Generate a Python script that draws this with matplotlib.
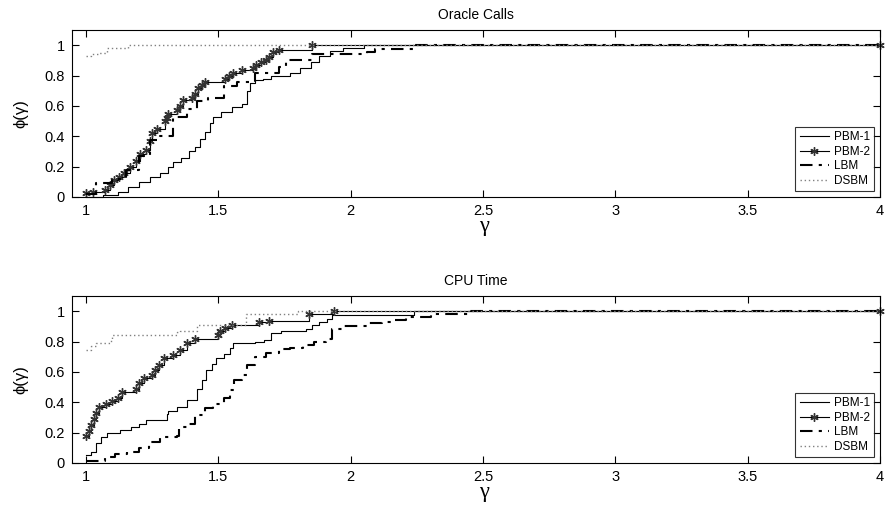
import numpy as np
import matplotlib
matplotlib.use("Agg")
import matplotlib.pyplot as plt

plt.rcParams["font.family"] = ["Liberation Sans", "DejaVu Sans"]

# -----------------------------------------------------------------------
# Performance profiles (step breakpoints: gamma, phi)
# -----------------------------------------------------------------------
solvers = ["PBM-1", "PBM-2", "LBM", "DSBM"]

# Oracle calls
oc_pbm1_x = [1.0, 1.066, 1.12, 1.16, 1.20, 1.24, 1.28, 1.31, 1.33, 1.36, 1.39, 1.41,
             1.43, 1.45, 1.47, 1.48, 1.51, 1.55, 1.59, 1.61, 1.62, 1.64, 1.67, 1.70,
             1.77, 1.81, 1.85, 1.88, 1.92, 1.97, 2.05, 4.0]
oc_pbm1_y = [0.0, 0.013, 0.033, 0.066, 0.10, 0.13, 0.16, 0.20, 0.23, 0.26, 0.30, 0.33,
             0.38, 0.43, 0.49, 0.53, 0.56, 0.59, 0.61, 0.70, 0.75, 0.77, 0.78, 0.80,
             0.82, 0.85, 0.89, 0.93, 0.96, 0.98, 1.0, 1.0]
oc_pbm2_x = [1.0, 1.025, 1.07, 1.09, 1.106, 1.125, 1.143, 1.165, 1.187, 1.205, 1.225,
             1.24, 1.25, 1.268, 1.30, 1.306, 1.31, 1.343, 1.355, 1.368, 1.40, 1.41,
             1.424, 1.44, 1.45, 1.524, 1.54, 1.555, 1.59, 1.63, 1.643, 1.66, 1.68,
             1.69, 1.705, 1.73, 1.855, 4.0]
oc_pbm2_y = [0.024, 0.03, 0.046, 0.08, 0.11, 0.13, 0.156, 0.20, 0.24, 0.28, 0.31,
             0.37, 0.42, 0.445, 0.50, 0.52, 0.55, 0.57, 0.60, 0.64, 0.65, 0.68,
             0.715, 0.74, 0.76, 0.78, 0.80, 0.82, 0.835, 0.847, 0.87, 0.89, 0.90,
             0.92, 0.955, 0.97, 1.0, 1.0]
oc_lbm_x = [1.0, 1.037, 1.10, 1.15, 1.20, 1.243, 1.28, 1.33, 1.38, 1.418, 1.46, 1.52,
            1.57, 1.64, 1.73, 1.755, 1.855, 2.06, 2.09, 2.24, 4.0]
oc_lbm_y = [0.02, 0.094, 0.12, 0.18, 0.27, 0.375, 0.40, 0.53, 0.58, 0.63, 0.65, 0.73,
            0.76, 0.82, 0.857, 0.90, 0.945, 0.956, 0.978, 1.0, 1.0]
oc_dsbm_x = [1.0, 1.02, 1.05, 1.08, 1.16, 4.0]
oc_dsbm_y = [0.93, 0.94, 0.95, 0.98, 1.0, 1.0]

# CPU time
cpu_pbm1_x = [1.0, 1.02, 1.037, 1.056, 1.08, 1.13, 1.17, 1.20, 1.225, 1.306, 1.31,
              1.343, 1.38, 1.418, 1.437, 1.455, 1.475, 1.49, 1.52, 1.543, 1.555, 1.637,
              1.674, 1.70, 1.737, 1.83, 1.855, 1.88, 1.91, 1.93, 2.24, 4.0]
cpu_pbm1_y = [0.05, 0.07, 0.13, 0.17, 0.195, 0.217, 0.24, 0.26, 0.28, 0.32, 0.34,
              0.37, 0.415, 0.49, 0.546, 0.61, 0.65, 0.69, 0.72, 0.76, 0.79, 0.80,
              0.81, 0.857, 0.867, 0.88, 0.91, 0.93, 0.95, 0.975, 1.0, 1.0]
cpu_pbm2_x = [1.0, 1.01, 1.02, 1.03, 1.037, 1.05, 1.075, 1.10, 1.12, 1.137, 1.187,
              1.20, 1.218, 1.25, 1.262, 1.275, 1.293, 1.33, 1.356, 1.38, 1.41, 1.50,
              1.506, 1.524, 1.55, 1.655, 1.69, 1.843, 1.936, 4.0]
cpu_pbm2_y = [0.18, 0.21, 0.25, 0.29, 0.33, 0.37, 0.39, 0.41, 0.43, 0.47, 0.49,
              0.525, 0.56, 0.58, 0.61, 0.647, 0.69, 0.71, 0.746, 0.79, 0.82, 0.84,
              0.87, 0.89, 0.91, 0.93, 0.935, 0.98, 1.0, 1.0]
cpu_lbm_x = [1.0, 1.07, 1.11, 1.156, 1.20, 1.237, 1.28, 1.343, 1.35, 1.39, 1.41, 1.45,
             1.48, 1.52, 1.543, 1.56, 1.59, 1.61, 1.637, 1.68, 1.73, 1.77, 1.82, 1.86,
             1.905, 1.93, 1.967, 2.07, 2.12, 2.167, 2.21, 2.305, 2.45, 4.0]
cpu_lbm_y = [0.01, 0.04, 0.06, 0.073, 0.10, 0.14, 0.17, 0.18, 0.24, 0.26, 0.316, 0.36,
             0.39, 0.425, 0.48, 0.546, 0.58, 0.647, 0.70, 0.725, 0.75, 0.758, 0.78, 0.80,
             0.82, 0.88, 0.90, 0.92, 0.93, 0.94, 0.96, 0.98, 1.0, 1.0]
cpu_dsbm_x = [1.0, 1.02, 1.037, 1.094, 1.10, 1.343, 1.356, 1.418, 1.605, 1.80, 4.0]
cpu_dsbm_y = [0.746, 0.77, 0.79, 0.82, 0.84, 0.86, 0.87, 0.91, 0.98, 1.0, 1.0]

panels = [
    ("Oracle Calls", [(oc_pbm1_x, oc_pbm1_y), (oc_pbm2_x, oc_pbm2_y),
                      (oc_lbm_x, oc_lbm_y), (oc_dsbm_x, oc_dsbm_y)]),
    ("CPU Time", [(cpu_pbm1_x, cpu_pbm1_y), (cpu_pbm2_x, cpu_pbm2_y),
                  (cpu_lbm_x, cpu_lbm_y), (cpu_dsbm_x, cpu_dsbm_y)]),
]

styles = [
    dict(color="black", linestyle="-", linewidth=0.8),
    dict(color="black", linestyle="-", linewidth=0.8, marker=(6, 2, 0),
         markersize=6, markeredgecolor="#333333", markeredgewidth=1.0),
    dict(color="black", linestyle=(0, (6, 3, 1.5, 3)), linewidth=1.5),
    dict(color="#808080", linestyle=(0, (1, 2)), linewidth=1.0),
]

fig = plt.figure(figsize=(8.88, 5.17), dpi=100)
# axes boxes in pixels: left 72, right 880; top panel 30..197, bottom 296..463
W, H = 888.0, 517.0
positions = [[72 / W, 1 - 197 / H, 808 / W, 167 / H],
             [72 / W, 1 - 463 / H, 808 / W, 167 / H]]

for pos, (title, curves) in zip(positions, panels):
    ax = fig.add_axes(pos)
    for name, (xs, ys), st in zip(solvers, curves, styles):
        ax.plot(xs, ys, drawstyle="steps-post", label=name, clip_on=False, **st)
    ax.set_xlim(0.947, 4)
    ax.set_ylim(0, 1.1)
    ax.set_xticks(np.arange(1, 4.01, 0.5))
    ax.set_xticklabels(["1", "1.5", "2", "2.5", "3", "3.5", "4"])
    ax.set_yticks(np.arange(0, 1.01, 0.2))
    ax.set_yticklabels(["0", "0.2", "0.4", "0.6", "0.8", "1"])
    ax.tick_params(direction="in", top=True, right=True, labelsize=10.5,
                   length=5, width=0.8, pad=5)
    ax.set_title(title, fontsize=10, pad=8)
    ax.set_ylabel("\u03d5(\u03b3)", fontsize=12, labelpad=12)
    ax.set_xlabel("\u03b3", fontsize=16, labelpad=-1, family=["Liberation Serif"])
    ax.xaxis.label.set_x(0.51)
    leg = ax.legend(loc="lower right", fontsize=8.5, frameon=True, fancybox=False,
                    edgecolor="black", borderaxespad=0.5, handlelength=2.5,
                    labelspacing=0.22, borderpad=0.35, handletextpad=0.4)
    leg.get_frame().set_linewidth(0.8)

fig.savefig("out.png", dpi=100)
